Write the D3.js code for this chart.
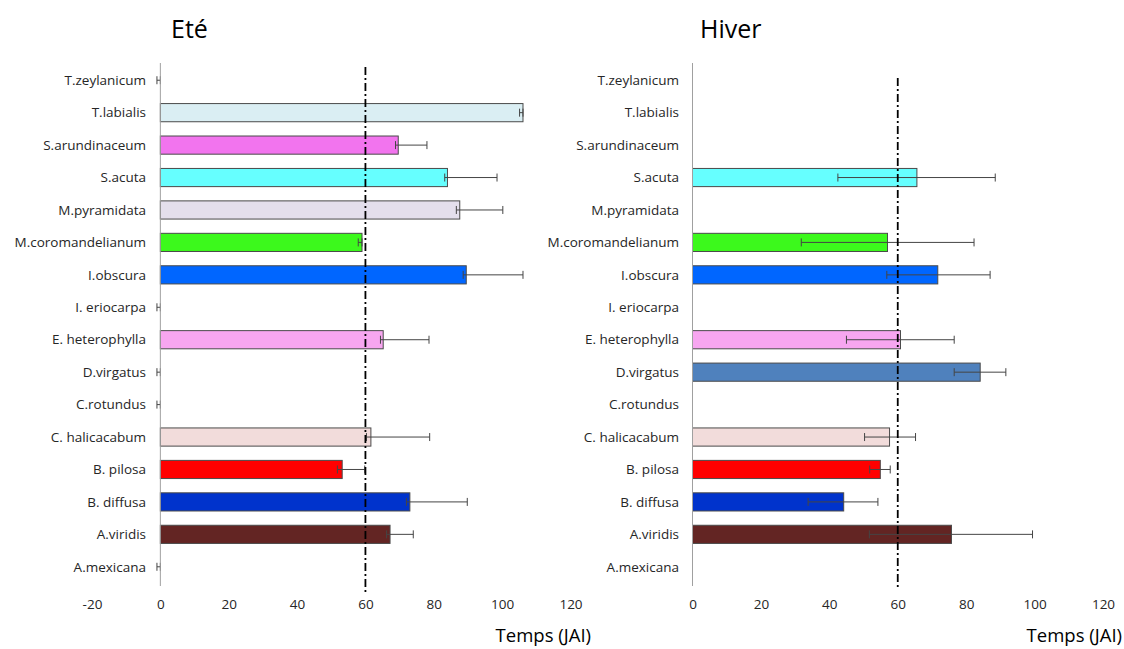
<!DOCTYPE html>
<html>
<head>
<meta charset="utf-8">
<script src="https://cdn.jsdelivr.net/npm/d3@7"></script>
<style>
  body { margin: 0; background: #fff; }
  svg { display: block; font-family: "Open Sans", sans-serif; }
</style>
</head>
<body>
<svg id="chart" width="1124" height="649"></svg>
<script>
// species, top to bottom
const species = ["T.zeylanicum", "T.labialis", "S.arundinaceum", "S.acuta", "M.pyramidata",
  "M.coromandelianum", "I.obscura", "I. eriocarpa", "E. heterophylla", "D.virgatus",
  "C.rotundus", "C. halicacabum", "B. pilosa", "B. diffusa", "A.viridis", "A.mexicana"];

const barColors = ["#ffffff", "#daeef3", "#f274ee", "#66ffff", "#e4dfec",
  "#3cf91c", "#0066ff", "#ffffff", "#f7a6f0", "#4f81bd",
  "#ffffff", "#f2dcdb", "#ff0000", "#0033cc", "#632523", "#ffffff"];

// Eté (mean, lower and upper end of error bar)
const eteMean = [0, 106.1, 69.6, 84.0, 87.6, 59.0, 89.5, 0, 65.2, 0, 0, 61.6, 53.2, 73.0, 67.2, 0];
const eteLow  = [-1, 105.1, 68.8, 83.2, 86.6, 57.9, 88.6, -1, 64.4, -1, -1, 60.3, 51.8, 72.0, 66.2, -1];
const eteHigh = [0, 106.1, 78.0, 98.5, 100.2, 59.0, 106.1, 0, 78.6, 0, 0, 78.8, 59.8, 89.8, 74.0, 0];

// Hiver (null = no data)
const hiverMean = [null, null, null, 65.6, null, 57.0, 71.7, null, 60.8, 84.1, null, 57.6, 54.9, 44.2, 75.7, null];
const hiverLow  = [null, null, null, 42.5, null, 31.8, 56.8, null, 45.0, 76.5, null, 50.3, 51.8, 33.8, 51.7, null];
const hiverHigh = [null, null, null, 88.5, null, 82.3, 87.0, null, 76.5, 91.6, null, 65.2, 57.8, 54.2, 99.4, null];

const ticksEte = [-20, 0, 20, 40, 60, 80, 100, 120];
const ticksHiver = [0, 20, 40, 60, 80, 100, 120];
const threshold = 60;

const svg = d3.select("#chart");

const y = d3.scaleBand()
  .domain(species)
  .range([64, 583])
  .paddingInner(0.44)
  .paddingOuter(0.22);

function drawPanel(opts) {
  const x = d3.scaleLinear().domain(opts.domain).range(opts.range);
  const g = svg.append("g");

  const rows = species.map((s, i) => ({
    name: s, mean: opts.mean[i], lo: opts.low[i], hi: opts.high[i], color: barColors[i]
  }));

  // title
  g.append("text")
    .attr("x", opts.titleX).attr("y", 38)
    .attr("font-size", 25).attr("fill", "#000")
    .text(opts.title);

  // category labels
  g.append("g").selectAll("text")
    .data(species)
    .join("text")
    .attr("x", opts.labelX)
    .attr("y", d => y(d) + y.bandwidth() / 2)
    .attr("dy", "0.35em")
    .attr("text-anchor", "end")
    .attr("font-size", 13.5)
    .attr("fill", "#262626")
    .text(d => d);

  // bars
  g.append("g").selectAll("rect")
    .data(rows.filter(d => d.mean))
    .join("rect")
    .attr("x", x(0))
    .attr("y", d => y(d.name))
    .attr("width", d => x(d.mean) - x(0))
    .attr("height", y.bandwidth())
    .attr("fill", d => d.color)
    .attr("stroke", "#4a4a4a")
    .attr("stroke-width", 1);

  // error bars
  const eb = g.append("g").attr("stroke", "#454545").attr("stroke-width", 1)
    .selectAll("g")
    .data(rows.filter(d => d.lo !== null))
    .join("g")
    .attr("transform", d => `translate(0,${y(d.name) + y.bandwidth() / 2})`);
  eb.append("line")
    .attr("x1", d => x(d.lo)).attr("x2", d => x(d.hi));
  eb.append("line")
    .attr("x1", d => x(d.lo)).attr("x2", d => x(d.lo))
    .attr("y1", -4).attr("y2", 4);
  eb.append("line")
    .attr("x1", d => x(d.hi)).attr("x2", d => x(d.hi))
    .attr("y1", -4).attr("y2", 4);

  // vertical axis line
  g.append("line")
    .attr("x1", x(0)).attr("x2", x(0))
    .attr("y1", 63).attr("y2", 586)
    .attr("stroke", "#a0a0a0").attr("stroke-width", 1);

  // threshold line
  g.append("line")
    .attr("x1", x(threshold)).attr("x2", x(threshold))
    .attr("y1", opts.dashTop).attr("y2", opts.dashBottom)
    .attr("stroke", "#000").attr("stroke-width", 1.8)
    .attr("stroke-dasharray", "8,3,2,3");

  // x tick labels (no axis line)
  const axis = d3.axisBottom(x).tickValues(opts.ticks)
    .tickFormat(d => String(d)).tickSize(0).tickPadding(0);
  const ax = g.append("g")
    .attr("transform", "translate(0,597)")
    .call(axis);
  ax.select(".domain").remove();
  ax.selectAll("text")
    .attr("font-family", "Open Sans, sans-serif")
    .attr("font-size", 13.5)
    .attr("fill", "#262626")
    .attr("dy", "0.9em");

  // axis title
  g.append("text")
    .attr("x", opts.axisTitleX).attr("y", 642)
    .attr("text-anchor", "end")
    .attr("font-size", 18.5).attr("fill", "#000")
    .text("Temps (JAI)");
}

drawPanel({
  title: "Eté", titleX: 171,
  domain: [-20, 120], range: [92, 570.5],
  ticks: ticksEte, labelX: 146,
  mean: eteMean, low: eteLow, high: eteHigh,
  dashTop: 67, dashBottom: 592,
  axisTitleX: 591
});

drawPanel({
  title: "Hiver", titleX: 700,
  domain: [0, 120], range: [692.5, 1103],
  ticks: ticksHiver, labelX: 679,
  mean: hiverMean, low: hiverLow, high: hiverHigh,
  dashTop: 78, dashBottom: 590,
  axisTitleX: 1122
});
</script>
</body>
</html>
